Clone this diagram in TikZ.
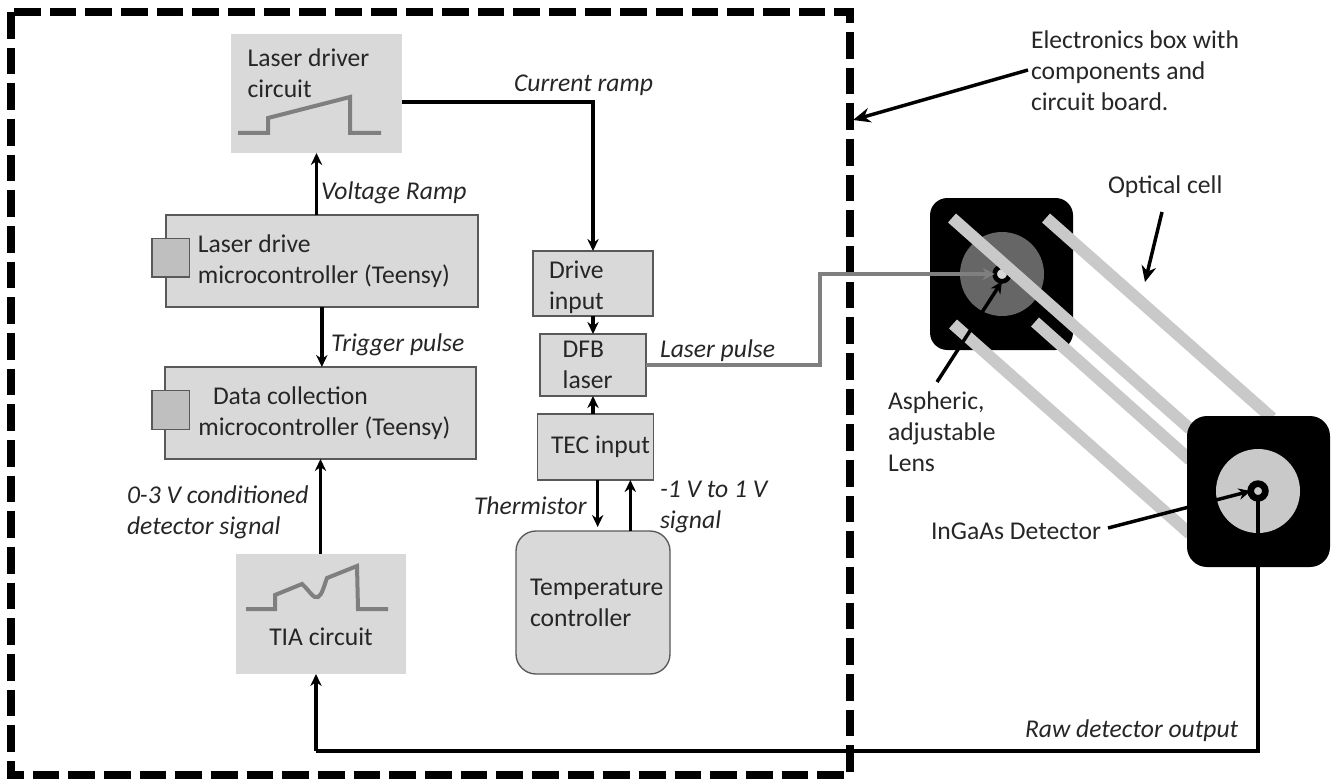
\documentclass[tikz,border=0pt]{standalone}
\usepackage{fontspec}
\setmainfont{Carlito}
\usepackage{xcolor}
\usetikzlibrary{arrows.meta,positioning,calc}
\definecolor{cBox}{HTML}{D9D9D9}
\definecolor{cPort}{HTML}{BFBFBF}
\definecolor{cEdge}{HTML}{595959}
\definecolor{cWave}{HTML}{7F7F7F}
\definecolor{cRod}{HTML}{C9C9C9}
\definecolor{cLens}{HTML}{666666}
\definecolor{cInk}{HTML}{262626}
\tikzset{
  x=.75pt, y=-.75pt,
  every node/.style={text=cInk, font=\fontsize{19.2}{23.4}\selectfont, outer sep=0pt},
  box/.style    ={rectangle, fill=cBox, align=flush left, inner xsep=0pt, inner ysep=0pt,
                  text width=#1, minimum width=#1},
  pad/.style    ={execute at begin node={\leftskip=#1\relax}},
  edged/.style  ={draw=cEdge, line width=1pt},
  port/.style   ={rectangle, draw=cEdge, fill=cPort, line width=1pt, minimum width=28pt, minimum height=29pt},
  disc/.style   ={circle, inner sep=0pt, minimum size=#1},
  mount/.style  ={rectangle, fill=black, inner sep=0pt},
  lbl/.style    ={font=\fontsize{19.2}{23.4}\selectfont\itshape, inner sep=0pt, align=left, anchor=west},
  txt/.style    ={inner sep=0pt, align=left, anchor=west},
  fl/.style     ={-{Stealth[length=9pt,width=8.5pt]}, draw=black, line width=2.6pt},
  wave/.style   ={draw=cWave, line width=3pt},
  rod/.style    ={draw=cRod, line width=9pt},
}
\begin{document}
\begin{tikzpicture}
  \useasboundingbox (0,0) rectangle (1333,781);
  % electronics box
  \draw[line width=5.5pt, dash pattern=on 20pt off 6.75pt] (11,12) rectangle (850,775);

  % left column
  \node[box=128.25pt, minimum height=89.25pt] (driver) at (316.5,93.5) {};
  \node[txt, below right=11pt and 12.5pt of driver.north west, anchor=north west] (drivertxt) {Laser driver\\circuit};
  \node[box=234pt, edged, minimum height=69pt, pad=24pt, below=46.5pt of driver, xshift=4pt] (drivemcu)
        {Laser drive\\microcontroller (Teensy)};
  \node[box=233.25pt, edged, minimum height=69pt, pad=25pt, below=45pt of drivemcu, xshift=-1pt] (datamcu)
        {\hspace*{11pt}Data collection\\microcontroller (Teensy)};
  \node[box=127.5pt, minimum height=90pt, below=71.25pt of datamcu] (tia) {};
  \node[txt, anchor=center] (tiatxt) at (321,637) {TIA circuit};
  \node[port] (driveport) at (170.5,257.5) {};
  \node[port] (dataport) at (170.5,410) {};

  % right column
  \node[box=90pt, edged, minimum height=48.75pt, pad=12pt] (drive) at (593,283.5) {\rule{0pt}{19pt}Drive\\input};
  \node[box=79.5pt, edged, minimum height=46.5pt, pad=17pt, below=13.5pt of drive] (dfb) {DFB\\laser};
  \node[box=87pt, edged, minimum height=49.5pt, pad=10pt, below=13.5pt of dfb, xshift=2pt] (tec) {TEC input};
  \node[box=115.5pt, edged, minimum height=107.25pt, pad=10.5pt, rounded corners=15pt, below=38.25pt of tec, xshift=-2pt] (temp)
        {Temperature\\controller};

  % waveforms
  \draw[wave] (238,133) -- (268,133) -- (268,118) -- (350,97) -- (350,133) -- (381,133);
  \draw[wave] (246,609) -- (275,609) -- (275,595) -- (302,584) .. controls (310,591) and (313,599) .. (318,597)
        .. controls (322,595) and (324,586) .. (327,578) -- (357,566) -- (358,609) -- (388,609);

  % optical cell
  \node[mount, minimum width=107.25pt, minimum height=114pt, rounded corners=13pt] (lasermount) at (1001.5,274) {};
  \node[disc=63pt, fill=cLens] (lensdisc) at (1002,274) {};
  \node[disc=11pt, draw=black, line width=3.5pt, fill=cBox] (lens) at (1002,274) {};
  \foreach \xa/\ya/\xb/\yb in {952/218/1190/429, 1046/218/1272/418, 1035/322/1190/460, 953/324/1190/534}
    \draw[rod] (\xa,\ya) -- (\xb,\yb);
  \node[mount, minimum width=107.25pt, minimum height=113.25pt, rounded corners=15pt] (detmount) at (1258.5,491.5) {};
  \node[disc=63pt, fill=cRod] (detdisc) at (1258,491) {};
  \node[disc=11pt, draw=black, line width=5pt, fill=cRod] (det) at (1258,491) {};

  % signal connectors
  \coordinate (rawcorner) at (316,751);
  \coordinate (thermdown) at ([xshift=1.5pt]tec.south);
  \coordinate (signalup) at ([xshift=28pt]temp.north);
  \draw[fl] ([yshift=-6.4pt]driver.east) -| (drive.north);
  \draw[fl] (drivemcu.north -| driver.south) -- (driver.south);
  \draw[fl] (drivemcu.south) -- (drivemcu.south |- datamcu.north);
  \draw[fl] (tia.north) -- (tia.north |- datamcu.south);
  \draw[fl] (drive) -- (dfb);
  \draw[fl] (tec.north -| dfb) -- (dfb);
  \draw[fl] (thermdown) -- ([yshift=3pt]thermdown |- temp.north);
  \draw[fl] (signalup) -- (signalup |- tec.south);
  \draw[-{Stealth[length=9pt,width=9pt]}, wave] (dfb.east) -- (820,365) |- (lens.west);
  \draw[line width=2.6pt, draw=black] (det.south) |- (rawcorner);
  \draw[fl] (rawcorner) -- (rawcorner |- tia.south);

  % arrows to the parts
  \coordinate (boxarrow) at (1028,70);
  \coordinate (cellarrow) at (1162,212);
  \coordinate (lensarrow) at (937,382);
  \coordinate (detarrow) at (1108,528);
  \draw[-{Stealth[length=13pt,width=11pt]}, line width=2.6pt] (boxarrow) -- (853,120);
  \draw[-{Stealth[length=12pt,width=11pt]}, line width=2.6pt] (cellarrow) -- (1145,282);
  \draw[fl] (lensarrow) -- (lens.south);
  \draw[fl] (detarrow) -- (det.west);

  % texts
  \node[txt] (boxtxt) at (1031,71) {Electronics box with\\components and\\circuit board.};
  \node[txt] (celltxt) at (1108,187) {Optical cell};
  \node[txt] (lenstxt) at (888,432) {Aspheric,\\adjustable\\Lens};
  \node[txt] (dettxt) at (931,531) {InGaAs Detector};
  \node[lbl] (ramptxt) at (514,85) {Current ramp};
  \node[lbl] (volttxt) at (321,193) {Voltage Ramp};
  \node[lbl] (trigtxt) at (331,345) {Trigger pulse};
  \node[lbl] (sigtxt) at (127,512) {0-3 V conditioned\\detector signal};
  \node[lbl] (thermtxt) at (474,506) {Thermistor};
  \node[lbl] (voltsigtxt) at (660,507) {-1 V to 1 V\\signal};
  \node[lbl] (pulsetxt) at (660,351) {Laser pulse};
  \node[lbl] (rawtxt) at (1025,731) {Raw detector output};
\end{tikzpicture}
\end{document}
